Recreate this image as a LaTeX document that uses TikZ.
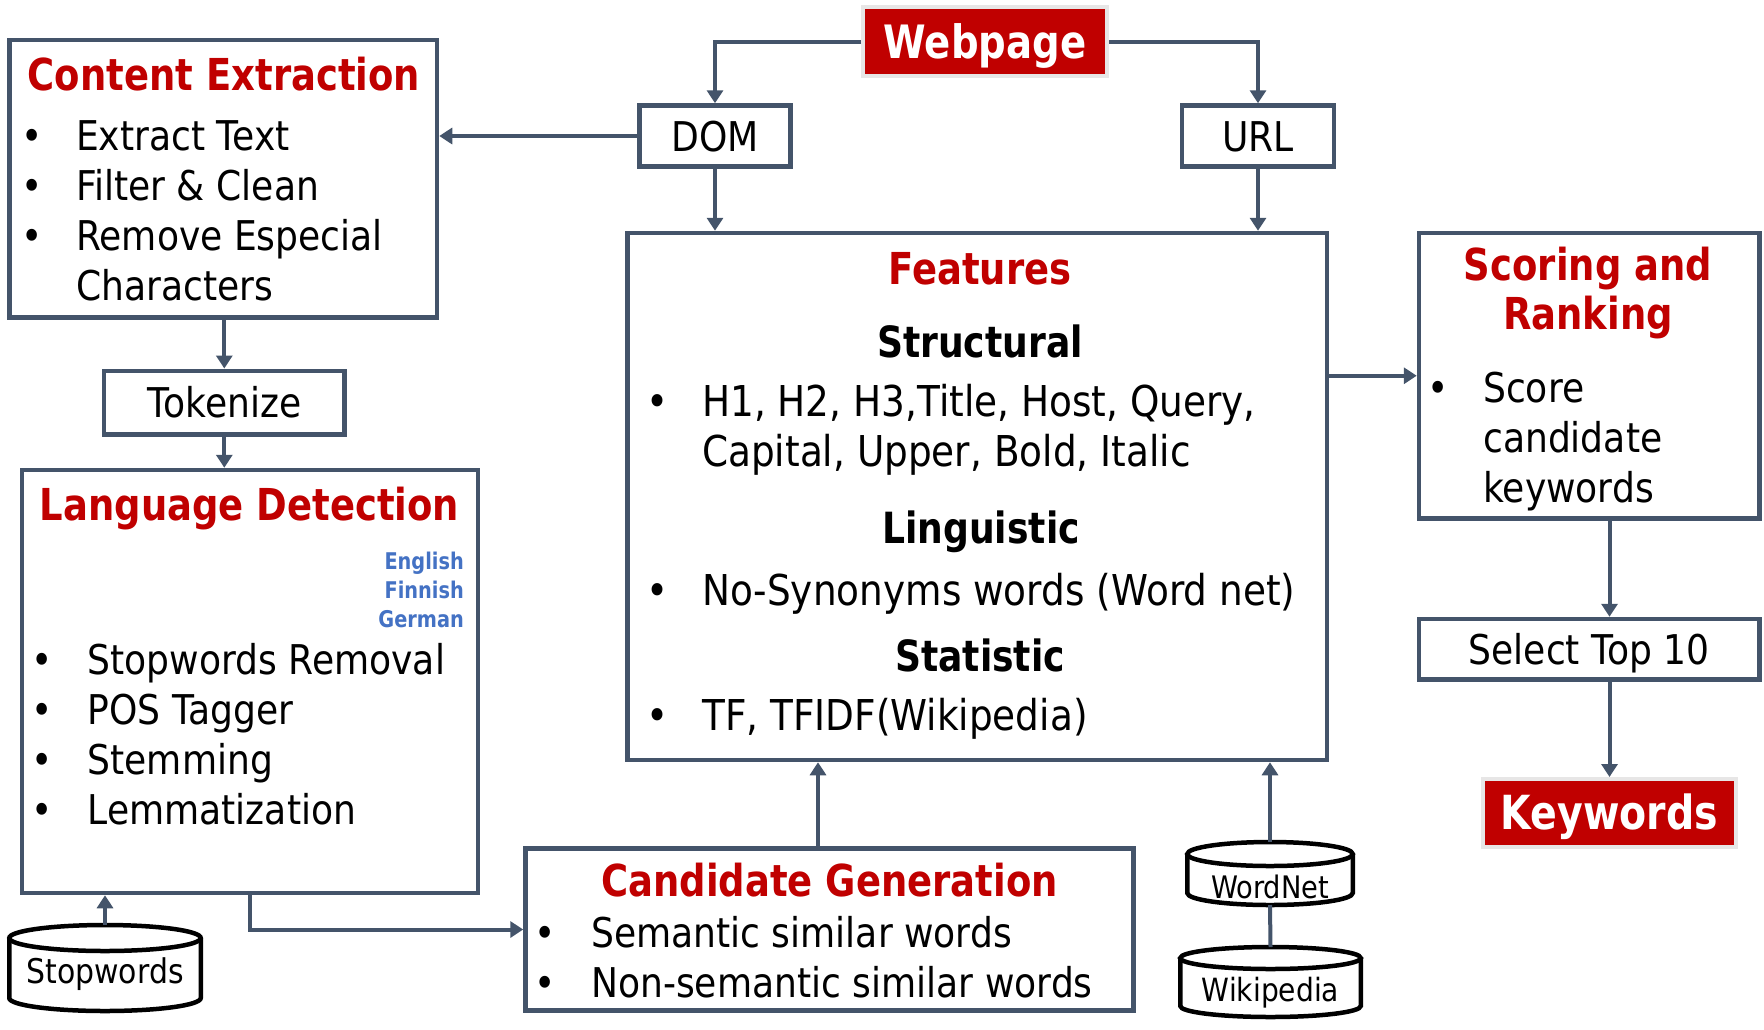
\documentclass[tikz,border=0pt]{standalone}
\usepackage{fontspec}
\setmainfont{DejaVu Sans}[FakeStretch=0.88]
\newfontfamily\headfont{DejaVu Sans}[FakeStretch=0.84]
\usetikzlibrary{positioning,arrows.meta,calc,backgrounds}
\definecolor{hdred}{HTML}{C00000}
\definecolor{slate}{HTML}{44546A}
\definecolor{langblue}{HTML}{4472C4}
\definecolor{tagrim}{HTML}{E7E6E6}
\newcommand{\bodyfnt}{\fontsize{41}{50}\selectfont}
\newcommand{\featfnt}{\fontsize{42.5}{50}\selectfont}
\newcommand{\headfnt}{\headfont\bfseries\fontsize{44}{49}\selectfont}
% drum outline round a named node: #1 node, #2 half width, #3 cap radius
\newcommand{\drum}[3]{%
  \begin{pgfonlayer}{background}
    \fill[white] ([yshift=-#3]#1.north west) -- ([yshift=#3]#1.south west)
      arc[start angle=180, end angle=360, x radius=#2, y radius=#3]
      -- ([yshift=-#3]#1.north east) -- cycle;
    \draw[drumline] ([yshift=-#3]#1.north west) -- ([yshift=#3]#1.south west)
      arc[start angle=180, end angle=360, x radius=#2, y radius=#3]
      -- ([yshift=-#3]#1.north east);
    \draw[drumline, fill=white] ([yshift=-#3]#1.north) ellipse[x radius=#2, y radius=#3];
  \end{pgfonlayer}}

\begin{document}
\begin{tikzpicture}[x=1pt, y=-1pt, >={Triangle[length=13pt,width=16pt]},
  box/.style={draw=slate, line width=4.5pt, fill=white, inner sep=0pt},
  lbl/.style={box, font=\bodyfnt, text height=30pt, text depth=0pt},
  tag/.style={draw=tagrim, fill=hdred, line width=4pt, text=white, inner sep=0pt,
    font=\headfont\bfseries\fontsize{46}{50}\selectfont, text height=33pt, text depth=0pt},
  db/.style={inner sep=0pt, outer sep=0pt, text depth=0pt, font=\fontsize{34}{40}\selectfont},
  drumline/.style={draw=black, line width=4.5pt},
  head/.style={anchor=base, text=hdred, font=\headfnt, inner sep=0pt},
  sub/.style={anchor=base, font=\headfont\bfseries\fontsize{43}{48}\selectfont, inner sep=0pt},
  list/.style={anchor=base west, font=\bodyfnt, inner sep=0pt},
  link/.style={draw=slate, line width=4pt}]

  \useasboundingbox (0,0) rectangle (1764,1029);

  % webpage and its parts
  \node[tag, minimum width=244pt, minimum height=69pt] (page) at (985,41.5) {Webpage};
  \node[lbl, minimum width=151pt, minimum height=61pt] (dom) at (715,136) {DOM};
  \node[lbl, minimum width=152pt, minimum height=61pt] (url) at (1258,136) {URL};

  % left column
  \node[box, minimum width=427.5pt, minimum height=277.5pt] (ce) at (223.25,178.75) {};
  \node[head] (ce-head) at (224,90) {Content Extraction};
  \node[list] (ce-list) at (21,150) {\begin{tabular}[t]{@{}p{55pt}@{}l@{}}
    \textbullet & Extract Text\\
    \textbullet & Filter \& Clean\\
    \textbullet & Remove Especial\\
                & Characters
  \end{tabular}};
  \node[lbl, minimum width=240.5pt, minimum height=63.5pt] (tok) at (224.3,402.5) {Tokenize};
  \node[box, minimum width=456pt, minimum height=423pt] (ld) at (250,681.5) {};
  \node[head] (ld-head) at (249.5,520) {Language Detection};
  \node[anchor=base east, text=langblue, inner sep=0pt,
    font=\headfont\bfseries\fontsize{23}{29}\selectfont] (langs) at (464,569)
    {\begin{tabular}[t]{@{}r@{}}English\\Finnish\\German\end{tabular}};
  \node[list] (ld-list) at (31.5,674) {\begin{tabular}[t]{@{}p{56pt}@{}l@{}}
    \textbullet & Stopwords Removal\\
    \textbullet & POS Tagger\\
    \textbullet & Stemming\\
    \textbullet & Lemmatization
  \end{tabular}};
  \node[db, minimum width=191.5pt, minimum height=86pt, text height=30pt] (stop) at (105,968) {Stopwords};
  \drum{stop}{95.75pt}{13pt}

  % features
  \node[box, minimum width=699.5pt, minimum height=527pt] (feat) at (977.25,496.5) {};
  \node[head] (feat-head) at (980,284) {Features};
  \node[sub] (struct) at (980,357) {Structural};
  \node[list, font=\featfnt] (struct-list) at (646.5,416) {\begin{tabular}[t]{@{}p{55.5pt}@{}l@{}}
    \textbullet & H1, H2, H3,Title, Host, Query,\\
                & Capital, Upper, Bold, Italic
  \end{tabular}};
  \node[sub] (ling) at (981,543) {Linguistic};
  \node[list, font=\featfnt] (ling-list) at (646.5,605) {\begin{tabular}[t]{@{}p{55.5pt}@{}l@{}}
    \textbullet & No-Synonyms words (Word net)
  \end{tabular}};
  \node[sub] (stat) at (980,671) {Statistic};
  \node[list, font=\featfnt] (stat-list) at (646.5,730) {\begin{tabular}[t]{@{}p{55.5pt}@{}l@{}}
    \textbullet & TF, TFIDF(Wikipedia)
  \end{tabular}};

  % candidates and resources
  \node[box, minimum width=608pt, minimum height=162pt] (cg) at (829.5,929.5) {};
  \node[head] (cg-head) at (829.5,896) {Candidate Generation};
  \node[list] (cg-list) at (534.5,947) {\begin{tabular}[t]{@{}p{56.5pt}@{}l@{}}
    \textbullet & Semantic similar words\\
    \textbullet & Non-semantic similar words
  \end{tabular}};
  \node[db, minimum width=165.5pt, minimum height=63pt, text height=49pt,
    font=\fontsize{31}{37}\selectfont] (wn) at (1270,873.5) {WordNet};
  \drum{wn}{82.75pt}{12pt}
  \node[db, minimum width=180.5pt, minimum height=70pt, text height=38pt,
    font=\fontsize{32}{38}\selectfont] (wiki) at (1270.5,982) {Wikipedia};
  \drum{wiki}{90.25pt}{11pt}

  % right column
  \node[box, minimum width=340.5pt, minimum height=285.5pt] (sr) at (1589.25,375.75) {};
  \node[head] (sr-head) at (1588,280)
    {\begin{tabular}[t]{@{}c@{}}Scoring and\\Ranking\end{tabular}};
  \node[list] (sr-list) at (1427.5,402) {\begin{tabular}[t]{@{}p{55.5pt}@{}l@{}}
    \textbullet & Score\\
                & candidate\\
                & keywords
  \end{tabular}};
  \node[lbl, minimum width=340.5pt, minimum height=60.5pt] (sel) at (1589.25,649.25) {Select Top 10};
  \node[tag, minimum width=253pt, minimum height=68pt,
    font=\headfont\bfseries\fontsize{47}{50}\selectfont] (kw) at (1609.5,813) {Keywords};

  % connectors
  \draw[link,->] (page.west) -| (dom.north);
  \draw[link,->] (page.east) -| (url.north);
  \draw[link,->] (dom.west) -- (dom.west -| ce.east);
  \draw[link,->] (dom.south) -- (dom.south |- feat.north);
  \draw[link,->] (url.south) -- (url.south |- feat.north);
  \draw[link,->] (ce.south -| tok.north) -- (tok.north);
  \draw[link,->] (tok.south) -- (tok.south |- ld.north);
  \draw[link,->] (stop.north) -- (stop.north |- ld.south);
  \draw[link,->] (ld.south) |- (cg.west);
  \draw[link,->] ([xshift=-11.5pt]cg.north) -- ([xshift=-11.5pt]cg.north |- feat.south);
  \draw[link,->] (wn.north) -- (wn.north |- feat.south);
  \draw[link] (wn.south) -- (wiki.north);
  \draw[link,->] (feat.east |- sr.west) -- (sr.west);
  \draw[link,->] (kw.north |- sr.south) -- (kw.north |- sel.north);
  \draw[link,->] (kw.north |- sel.south) -- (kw.north);
\end{tikzpicture}
\end{document}
